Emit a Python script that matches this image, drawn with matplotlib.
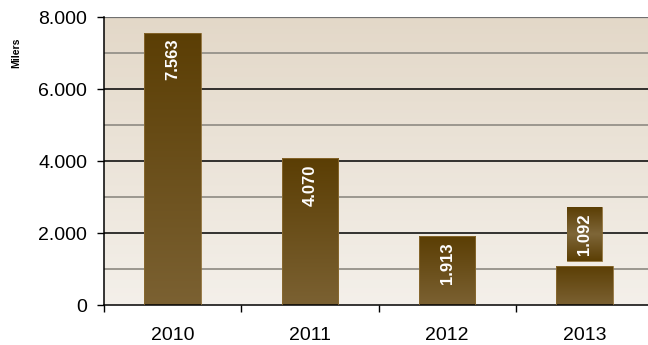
import numpy as np
import matplotlib.pyplot as plt
from matplotlib.colors import LinearSegmentedColormap
from matplotlib.patches import Rectangle

years = ["2010", "2011", "2012", "2013"]
values = [7563, 4070, 1913, 1092]
y_ticks = [0, 2000, 4000, 6000, 8000]
y_label = "Milers"

plt.rcParams['font.family'] = ['Liberation Sans', 'DejaVu Sans']

fig = plt.figure(figsize=(6.48, 3.45), dpi=100)
ax = fig.add_axes([104 / 648, 40 / 345, 549 / 648, 288 / 345])

x = np.arange(len(years))
xlim = (-0.5, len(years) - 0.5)
ylim = (0, 8000)

# background gradient: tan at top, pale at bottom
bg = LinearSegmentedColormap.from_list("bg", ["#F4F0EA", "#E3D8C8"])
ax.imshow(np.linspace(0, 1, 256).reshape(-1, 1), cmap=bg, origin="lower",
          extent=[xlim[0], xlim[1], ylim[0], ylim[1]], aspect="auto", zorder=0)

# gridlines
for v in range(1000, 8000, 2000):
    ax.axhline(v, color="#959189", lw=1.3, zorder=1)
for v in y_ticks[1:-1]:
    ax.axhline(v, color="#000000", lw=1.1, zorder=1)
ax.axhline(8000, color="#707070", lw=1.6, zorder=1)

# bars with vertical gradient
bar_cm = LinearSegmentedColormap.from_list("bar", ["#7B6132", "#5B3E04"])
bars = ax.bar(x, values, width=0.41, color="none", edgecolor="#8A6A30",
              lw=0.6, zorder=3)
for b in bars:
    im = ax.imshow(np.linspace(0, 1, 256).reshape(-1, 1), cmap=bar_cm,
                   origin="lower",
                   extent=[b.get_x(), b.get_x() + b.get_width(), 0, b.get_height()],
                   aspect="auto", zorder=2)
    im.set_clip_path(b)

# value labels
box_cm = LinearSegmentedColormap.from_list("box", ["#5B3E04", "#7E6638", "#5B3E04"])
for xi, v in zip(x, values):
    txt = f"{v:,}".replace(",", ".")
    if v > 1500:
        ax.text(xi, v - 160, txt, rotation=90, ha="center", va="top",
                color="white", fontsize=12, fontweight="bold", zorder=5)
    else:
        bw, y0, y1 = 0.255, 1222, 2722
        r = Rectangle((xi - bw / 2, y0), bw, y1 - y0, facecolor="none",
                      edgecolor="#8A6A30", lw=0.6, zorder=4)
        ax.add_patch(r)
        im = ax.imshow(np.linspace(0, 1, 256).reshape(-1, 1), cmap=box_cm,
                       origin="lower",
                       extent=[xi - bw / 2, xi + bw / 2, y0, y1],
                       aspect="auto", zorder=4)
        im.set_clip_path(r)
        ax.text(xi, (y0 + y1) / 2, txt, rotation=90, ha="center", va="center",
                color="white", fontsize=12, fontweight="bold", zorder=5)

ax.set_xlim(xlim)
ax.set_ylim(ylim)

ax.set_yticks(y_ticks)
ax.set_yticklabels([f"{t:,}".replace(",", ".") for t in y_ticks], fontsize=14)
ax.set_xticks(x)
ax.set_xticklabels(years, fontsize=14)
ax.set_xticks(np.arange(len(years) + 1) - 0.5, minor=True)
ax.tick_params(axis="x", which="major", length=0, pad=16)
ax.tick_params(axis="x", which="minor", length=5, width=1, direction="out")
ax.tick_params(axis="y", length=5, width=1, direction="out", pad=7)

for s in ["top", "right"]:
    ax.spines[s].set_visible(False)
ax.spines["left"].set_linewidth(1.1)
ax.spines["bottom"].set_linewidth(1.1)

fig.text(16 / 648, 1 - 53 / 345, y_label, rotation=90, ha="center", va="center",
         fontsize=7.5, fontweight="bold")

fig.savefig("out.png", dpi=100)
